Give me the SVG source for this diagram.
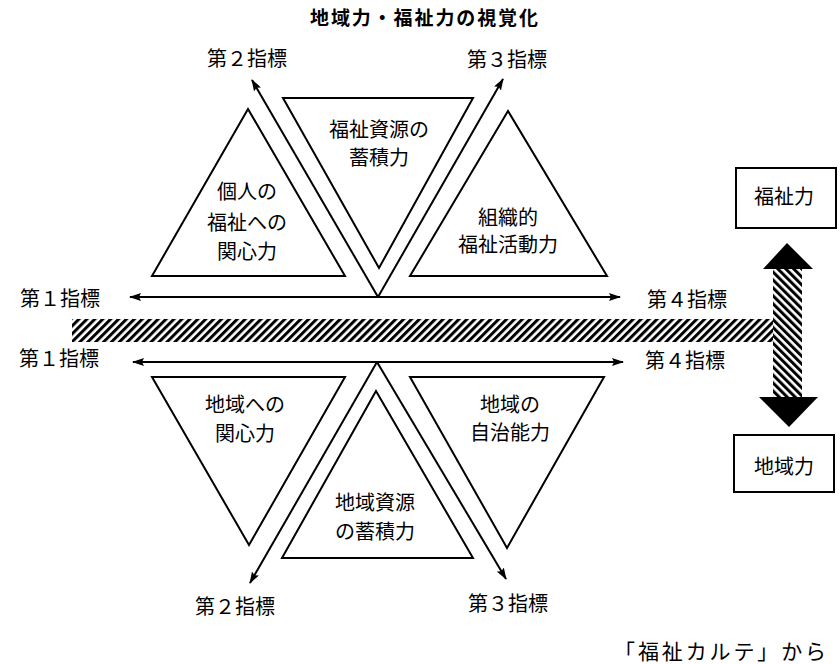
<svg xmlns="http://www.w3.org/2000/svg" width="840" height="664" viewBox="0 0 840 664">
<style>
text{font-family:"Noto Sans CJK JP","Noto Sans",sans-serif;font-size:20px;fill:#000;text-anchor:middle}
.title{font-size:19px;font-weight:bold}
.tri{fill:none;stroke:#000;stroke-width:2;stroke-linejoin:miter}
.ax{stroke:#000;stroke-width:2;fill:none;marker-end:url(#ah);marker-start:url(#ah)}
.ax1{stroke:#000;stroke-width:2;fill:none;marker-end:url(#ah)}
.box{fill:#fff;stroke:#000;stroke-width:2}
</style>
<defs>
<marker id="ah" viewBox="0 0 12 8" refX="11" refY="4" markerWidth="12" markerHeight="8" markerUnits="userSpaceOnUse" orient="auto-start-reverse">
<path d="M0,0 L12,4 L0,8 L2,4 z" fill="#000"/>
</marker>
<pattern id="hatchH" width="5.6" height="10" patternUnits="userSpaceOnUse" patternTransform="rotate(45)">
<rect x="0" y="0" width="3" height="10" fill="#000"/>
</pattern>
<pattern id="hatchV" width="5.6" height="10" patternUnits="userSpaceOnUse" patternTransform="rotate(-45)">
<rect x="0" y="0" width="3" height="10" fill="#000"/>
</pattern>
</defs>
<rect width="840" height="664" fill="#fff"/>
<text class="title" x="424" y="25" textLength="228" lengthAdjust="spacing">地域力・福祉力の視覚化</text>
<g id="connectors">
<line class="ax" x1="130" y1="297" x2="620" y2="297"/>
<line class="ax1" x1="378" y1="297" x2="252" y2="80"/>
<line class="ax1" x1="378" y1="297" x2="503" y2="79"/>
<line class="ax" x1="133" y1="362" x2="623" y2="362"/>
<line class="ax1" x1="377" y1="362" x2="250" y2="583"/>
<line class="ax1" x1="377" y1="362" x2="506" y2="579"/>
<g id="band">
<rect x="72" y="319" width="701" height="23" fill="url(#hatchH)"/>
<rect x="773" y="269" width="29" height="128" fill="url(#hatchV)"/>
<polygon points="787,243 763,269 813,269" fill="#000"/>
<polygon points="759,397 818,397 789,427" fill="#000"/>
</g>
</g>
<g id="axis-labels">
<text x="247" y="65.5">第２指標</text>
<text x="507" y="66.5">第３指標</text>
<text x="60" y="305.5">第１指標</text>
<text x="687" y="306.5">第４指標</text>
<text x="59" y="365.5">第１指標</text>
<text x="685" y="367.5">第４指標</text>
<text x="235" y="613.5">第２指標</text>
<text x="508" y="610.5">第３指標</text>
</g>
<g id="n-kojin">
<polygon class="tri" points="248,109 152,276 345,276"/>
<text x="247" y="198.5">個人の</text>
<text x="247" y="230">福祉への</text>
<text x="247" y="258.5">関心力</text>
</g>
<g id="n-fukushi-shigen">
<polygon class="tri" points="283,98 473,98 379,268"/>
<text x="379" y="136.5">福祉資源の</text>
<text x="379" y="165">蓄積力</text>
</g>
<g id="n-soshiki">
<polygon class="tri" points="508,111 410,276 607,276"/>
<text x="508" y="224.5">組織的</text>
<text x="508" y="251.5">福祉活動力</text>
</g>
<g id="n-chiiki-kanshin">
<polygon class="tri" points="152,377 345,377 249,545"/>
<text x="245" y="411.5">地域への</text>
<text x="245" y="441">関心力</text>
</g>
<g id="n-chiiki-shigen">
<polygon class="tri" points="376,391 282,558 473,558"/>
<text x="375" y="510">地域資源</text>
<text x="375" y="538.5">の蓄積力</text>
</g>
<g id="n-jichi">
<polygon class="tri" points="410,377 604,377 507,548"/>
<text x="510" y="411.5">地域の</text>
<text x="510" y="440">自治能力</text>
</g>
<g id="n-fukushiryoku">
<rect class="box" x="736" y="168" width="100" height="60"/>
<text x="784" y="203.5">福祉力</text>
</g>
<g id="n-chiikiryoku">
<rect class="box" x="734" y="435" width="100" height="57"/>
<text x="784" y="473.5">地域力</text>
</g>
<text x="614" y="659" style="text-anchor:start;font-size:21px" textLength="212" lengthAdjust="spacing">「福祉カルテ」から</text>
</svg>
